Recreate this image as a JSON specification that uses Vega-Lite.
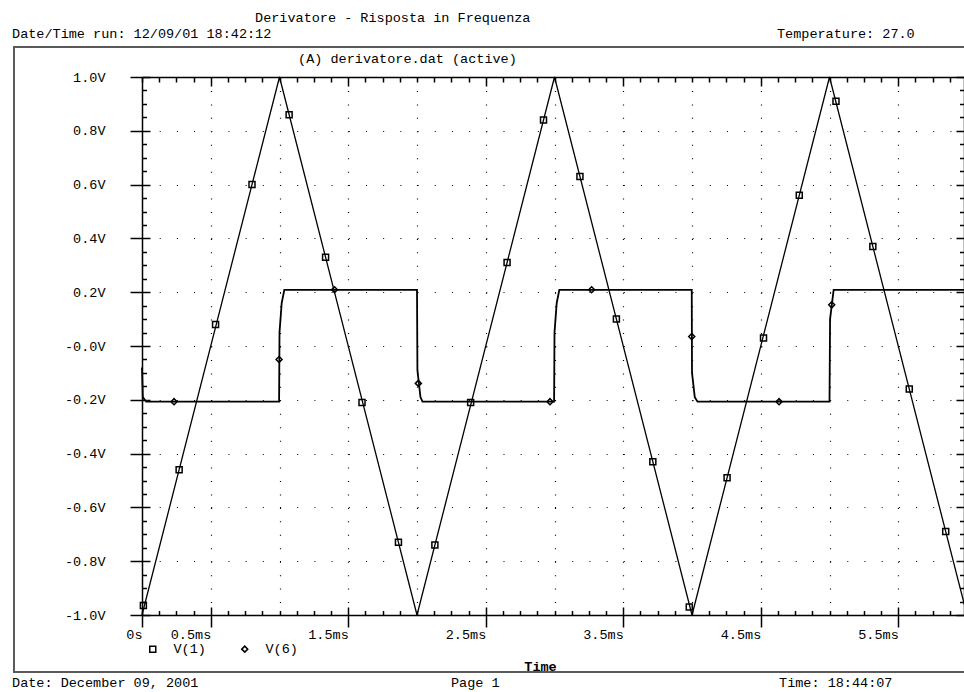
{
  "$schema": "https://vega.github.io/schema/vega-lite/v6.json",
  "width": 822,
  "height": 538,
  "autosize": {"type": "none"},
  "padding": {"left": 142, "top": 77, "right": 0, "bottom": 77},
  "background": "white",
  "config": {
    "view": {"stroke": null},
    "font": "Liberation Mono",
    "axis": {
      "labelFont": "Liberation Mono",
      "labelFontSize": 13.5,
      "labelColor": "black",
      "titleFont": "Liberation Mono",
      "titleColor": "black",
      "domainColor": "black",
      "domainWidth": 1.5,
      "tickColor": "black",
      "tickWidth": 1.5,
      "gridColor": "black",
      "labelFlush": false,
      "labelOverlap": false,
      "labelBound": false
    }
  },
  "resolve": {"axis": {"x": "independent", "y": "independent"}},
  "datasets": {
    "frame": [{"x0": -0.931, "x1": 6.5, "y0": 1.1115, "y1": -1.212}],
    "tri": [
      {"t": 0, "v": -1}, {"t": 1, "v": 1}, {"t": 2, "v": -1}, {"t": 3, "v": 1},
      {"t": 4, "v": -1}, {"t": 5, "v": 1}, {"t": 6, "v": -1}
    ],
    "sq": [
      {"t": 0, "v": -0.08}, {"t": 0.006, "v": -0.19}, {"t": 0.03, "v": -0.207},
      {"t": 0.997, "v": -0.207}, {"t": 1.0, "v": 0.05}, {"t": 1.016, "v": 0.16}, {"t": 1.035, "v": 0.209},
      {"t": 2.0, "v": 0.209}, {"t": 2.003, "v": -0.09}, {"t": 2.025, "v": -0.19}, {"t": 2.04, "v": -0.207},
      {"t": 2.997, "v": -0.207}, {"t": 3.0, "v": 0.05}, {"t": 3.016, "v": 0.16}, {"t": 3.035, "v": 0.209},
      {"t": 3.998, "v": 0.209}, {"t": 4.0, "v": -0.1}, {"t": 4.02, "v": -0.19}, {"t": 4.04, "v": -0.207},
      {"t": 5.0, "v": -0.207}, {"t": 5.004, "v": 0.1}, {"t": 5.03, "v": 0.209},
      {"t": 5.978, "v": 0.209}
    ],
    "markers": [
      {"series": "V(1)", "t": 0.01, "v": -0.965},
      {"series": "V(1)", "t": 0.27, "v": -0.46},
      {"series": "V(1)", "t": 0.535, "v": 0.08},
      {"series": "V(1)", "t": 0.8, "v": 0.6},
      {"series": "V(1)", "t": 1.07, "v": 0.86},
      {"series": "V(1)", "t": 1.335, "v": 0.33},
      {"series": "V(1)", "t": 1.6, "v": -0.21},
      {"series": "V(1)", "t": 1.865, "v": -0.73},
      {"series": "V(1)", "t": 2.13, "v": -0.74},
      {"series": "V(1)", "t": 2.39, "v": -0.21},
      {"series": "V(1)", "t": 2.655, "v": 0.31},
      {"series": "V(1)", "t": 2.92, "v": 0.84},
      {"series": "V(1)", "t": 3.185, "v": 0.63},
      {"series": "V(1)", "t": 3.45, "v": 0.1},
      {"series": "V(1)", "t": 3.715, "v": -0.43},
      {"series": "V(1)", "t": 3.98, "v": -0.97},
      {"series": "V(1)", "t": 4.255, "v": -0.49},
      {"series": "V(1)", "t": 4.52, "v": 0.03},
      {"series": "V(1)", "t": 4.78, "v": 0.56},
      {"series": "V(1)", "t": 5.047, "v": 0.91},
      {"series": "V(1)", "t": 5.315, "v": 0.37},
      {"series": "V(1)", "t": 5.58, "v": -0.16},
      {"series": "V(1)", "t": 5.845, "v": -0.69},
      {"series": "V(6)", "t": 0.233, "v": -0.207},
      {"series": "V(6)", "t": 0.997, "v": -0.05},
      {"series": "V(6)", "t": 1.4, "v": 0.209},
      {"series": "V(6)", "t": 2.01, "v": -0.139},
      {"series": "V(6)", "t": 2.967, "v": -0.207},
      {"series": "V(6)", "t": 3.27, "v": 0.209},
      {"series": "V(6)", "t": 3.998, "v": 0.035},
      {"series": "V(6)", "t": 4.633, "v": -0.207},
      {"series": "V(6)", "t": 5.016, "v": 0.153}
    ],
    "notes": [
      {"label": "Derivatore - Risposta in Frequenza", "t": 0.822, "v": 1.219},
      {"label": "Date/Time run: 12/09/01 18:42:12", "t": -0.945, "v": 1.16},
      {"label": "Temperature: 27.0", "t": 4.618, "v": 1.16},
      {"label": "(A) derivatore.dat (active)", "t": 1.135, "v": 1.067},
      {"label": "Date: December 09, 2001", "t": -0.945, "v": -1.2546},
      {"label": "Page 1", "t": 2.247, "v": -1.2546},
      {"label": "Time: 18:44:07", "t": 4.633, "v": -1.2546}
    ]
  },
  "layer": [
    {
      "data": {"name": "frame"},
      "mark": {"type": "rect", "fill": null, "fillOpacity": 0, "stroke": "#5a5a5a", "strokeWidth": 2, "clip": false},
      "encoding": {
        "x": {"field": "x0", "type": "quantitative", "scale": {"domain": [0, 5.978], "nice": false, "zero": false}, "axis": null},
        "x2": {"field": "x1"},
        "y": {"field": "y0", "type": "quantitative", "scale": {"domain": [-1, 1], "nice": false, "zero": false}, "axis": null},
        "y2": {"field": "y1"}
      }
    },
    {
      "data": {"name": "tri"},
      "mark": {"type": "point", "opacity": 0},
      "encoding": {
        "x": {"field": "t", "type": "quantitative", "scale": {"domain": [0, 5.978], "nice": false, "zero": false},
          "axis": {"orient": "bottom", "values": [0.5, 1, 1.5, 2, 2.5, 3, 3.5, 4, 4.5, 5, 5.5], "grid": true, "gridDash": [1, 12.45], "gridWidth": 1.2, "ticks": false, "labels": false, "domain": false, "title": null}},
        "y": {"field": "v", "type": "quantitative", "scale": {"domain": [-1, 1], "nice": false, "zero": false},
          "axis": {"orient": "left", "values": [-0.8, -0.6, -0.4, -0.2, 0, 0.2, 0.4, 0.6, 0.8], "grid": true, "gridDash": [1, 16.19], "gridWidth": 1.2, "ticks": false, "labels": false, "domain": false, "title": null}}
      }
    },
    {
      "data": {"name": "tri"},
      "mark": {"type": "line", "color": "black", "strokeWidth": 1.3},
      "encoding": {
        "x": {"field": "t", "type": "quantitative", "scale": {"domain": [0, 5.978], "nice": false, "zero": false},
          "axis": {"orient": "bottom", "values": [0, 0.5, 1.5, 2.5, 3.5, 4.5, 5.5], "grid": false, "tickSize": 12, "labelPadding": 0, "labelAlign": "right",
            "labelExpr": "datum.value == 0 ? '0s' : format(datum.value, '.1f') + 'ms'",
            "title": "Time", "titleFontWeight": "bold", "titleFontSize": 13.5, "titleX": 398, "titleY": 51, "titleAlign": "center", "titleBaseline": "middle"}},
        "y": {"field": "v", "type": "quantitative", "scale": {"domain": [-1, 1], "nice": false, "zero": false},
          "axis": {"orient": "left", "values": [-1, -0.8, -0.6, -0.4, -0.2, 0, 0.2, 0.4, 0.6, 0.8, 1], "grid": false, "tickSize": 12, "labelPadding": 25, "labelBaseline": "middle",
            "labelExpr": "(datum.value <= 0 ? '-' : '') + format(abs(datum.value), '.1f') + 'V'",
            "title": null}}
      }
    },
    {
      "data": {"name": "sq"},
      "mark": {"type": "line", "color": "black", "strokeWidth": 1.8},
      "encoding": {
        "x": {"field": "t", "type": "quantitative", "scale": {"domain": [0, 5.978], "nice": false, "zero": false},
          "axis": {"orient": "bottom", "values": [0,0.125,0.25,0.375,0.5,0.625,0.75,0.875,1,1.125,1.25,1.375,1.5,1.625,1.75,1.875,2,2.125,2.25,2.375,2.5,2.625,2.75,2.875,3,3.125,3.25,3.375,3.5,3.625,3.75,3.875,4,4.125,4.25,4.375,4.5,4.625,4.75,4.875,5,5.125,5.25,5.375,5.5,5.625,5.75,5.875],
            "tickSize": {"condition": {"test": "round(datum.value*8) % 8 == 4", "value": -8}, "value": -4.5},
            "labels": false, "domain": false, "grid": false, "title": null}},
        "y": {"field": "v", "type": "quantitative", "scale": {"domain": [-1, 1], "nice": false, "zero": false},
          "axis": {"orient": "left", "values": [-1,-0.95,-0.9,-0.85,-0.8,-0.75,-0.7,-0.65,-0.6,-0.55,-0.5,-0.45,-0.4,-0.35,-0.3,-0.25,-0.2,-0.15,-0.1,-0.05,0,0.05,0.1,0.15,0.2,0.25,0.3,0.35,0.4,0.45,0.5,0.55,0.6,0.65,0.7,0.75,0.8,0.85,0.9,0.95,1],
            "tickSize": {"condition": {"test": "round(abs(datum.value)*20) % 4 == 0", "value": -8}, "value": -4.5},
            "labels": false, "domain": false, "grid": false, "title": null}}
      }
    },
    {
      "data": {"name": "markers"},
      "mark": {"type": "point", "filled": false, "color": "black", "size": 36, "strokeWidth": 1.5, "opacity": 1},
      "encoding": {
        "x": {"field": "t", "type": "quantitative", "scale": {"domain": [0, 5.978], "nice": false, "zero": false},
          "axis": {"orient": "top", "values": [0,0.125,0.25,0.375,0.5,0.625,0.75,0.875,1,1.125,1.25,1.375,1.5,1.625,1.75,1.875,2,2.125,2.25,2.375,2.5,2.625,2.75,2.875,3,3.125,3.25,3.375,3.5,3.625,3.75,3.875,4,4.125,4.25,4.375,4.5,4.625,4.75,4.875,5,5.125,5.25,5.375,5.5,5.625,5.75,5.875],
            "tickSize": {"condition": {"test": "round(datum.value*8) % 8 == 4", "value": -9}, "value": -5},
            "labels": false, "domain": true, "grid": false, "title": null}},
        "y": {"field": "v", "type": "quantitative", "scale": {"domain": [-1, 1], "nice": false, "zero": false},
          "axis": {"orient": "right", "values": [-1,-0.95,-0.9,-0.85,-0.8,-0.75,-0.7,-0.65,-0.6,-0.55,-0.5,-0.45,-0.4,-0.35,-0.3,-0.25,-0.2,-0.15,-0.1,-0.05,0,0.05,0.1,0.15,0.2,0.25,0.3,0.35,0.4,0.45,0.5,0.55,0.6,0.65,0.7,0.75,0.8,0.85,0.9,0.95,1],
            "tickSize": {"condition": {"test": "round(abs(datum.value)*20) % 4 == 0", "value": -8}, "value": -4.5},
            "labels": false, "domain": true, "grid": false, "title": null}},
        "shape": {"field": "series", "type": "nominal",
          "scale": {"domain": ["V(1)", "V(6)"], "range": ["square", "diamond"]},
          "legend": {"orient": "none", "legendX": 4, "legendY": 565, "direction": "horizontal", "title": null,
            "symbolSize": 36, "symbolStrokeWidth": 1.5, "symbolStrokeColor": "black", "symbolFillColor": "transparent",
            "labelFont": "Liberation Mono", "labelFontSize": 13.5, "labelColor": "black", "labelOffset": 14, "columnPadding": 32, "padding": 0}}
      }
    },
    {
      "data": {"name": "notes"},
      "mark": {"type": "text", "align": "left", "baseline": "middle", "font": "Liberation Mono", "fontSize": 13.5, "color": "black", "clip": false},
      "encoding": {
        "x": {"field": "t", "type": "quantitative", "scale": {"domain": [0, 5.978], "nice": false, "zero": false}, "axis": null},
        "y": {"field": "v", "type": "quantitative", "scale": {"domain": [-1, 1], "nice": false, "zero": false}, "axis": null},
        "text": {"field": "label"}
      }
    }
  ]
}
